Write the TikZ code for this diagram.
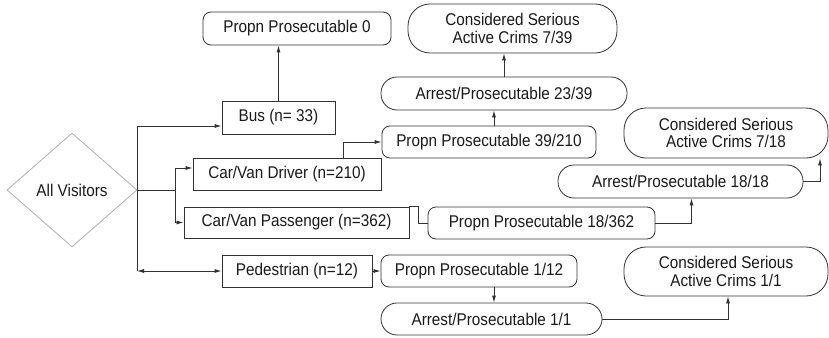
\documentclass[tikz,border=0pt]{standalone}
\usepackage{fontspec}
\setmainfont{Liberation Sans}[FakeStretch=0.9]
\usetikzlibrary{shapes.geometric,arrows.meta}
\definecolor{edge}{RGB}{50,50,50}
\definecolor{txt}{RGB}{25,25,25}
\definecolor{dia}{RGB}{175,175,175}
\begin{document}
\begin{tikzpicture}[x=1pt,y=-1pt,
  every node/.style={font=\fontsize{17}{17.5}\selectfont,text=txt,inner sep=0pt,align=center},
  sqbox/.style={draw=edge,line width=0.8pt,rectangle},
  rbox/.style={draw=edge,line width=0.8pt,rectangle,rounded corners=8pt},
  oval/.style={draw=edge,line width=0.8pt,rectangle,rounded corners=16pt},
  bigoval/.style={draw=edge,line width=0.8pt,rectangle,rounded corners=22pt},
  conn/.style={draw=edge,line width=0.8pt},
  arr/.style={conn,-{Latex[length=7pt,width=4pt]}},
  darr/.style={conn,{Latex[length=7pt,width=4pt]}-{Latex[length=7pt,width=4pt]}}]
\useasboundingbox (0,0) rectangle (829,337);

% nodes
\node[draw=dia,line width=0.8pt,diamond,minimum width=130pt,minimum height=114pt] (all) at (72,190) {All Visitors};
\node[rbox,minimum width=188pt,minimum height=33pt] (pp0) at (297,28.5) {Propn Prosecutable 0};
\node[sqbox,minimum width=113pt,minimum height=33pt] (bus) at (278.5,117.5) {Bus (n= 33)};
\node[sqbox,minimum width=188pt,minimum height=32pt] (drv) at (287,174) {Car/Van Driver (n=210)};
\node[sqbox,minimum width=225pt,minimum height=31pt] (pas) at (296.5,222.5) {Car/Van Passenger (n=362)};
\node[sqbox,minimum width=150pt,minimum height=32pt] (ped) at (297,271) {Pedestrian (n=12)};
\node[rbox,minimum width=214pt,minimum height=32pt] (p39) at (489,142) {Propn Prosecutable 39/210};
\node[oval,minimum width=246pt,minimum height=33pt] (a23) at (504,93.5) {Arrest/Prosecutable 23/39};
\node[bigoval,minimum width=209pt,minimum height=49pt] (c739) at (512.5,28.5) {Considered Serious\\Active Crims 7/39};
\node[bigoval,minimum width=204pt,minimum height=50pt] (c718) at (726,133) {Considered Serious\\Active Crims 7/18};
\node[oval,minimum width=245pt,minimum height=33pt] (a18) at (680.5,181.5) {Arrest/Prosecutable 18/18};
\node[rbox,minimum width=227pt,minimum height=32pt] (p18) at (541.5,223) {Propn Prosecutable 18/362};
\node[rbox,minimum width=196pt,minimum height=32pt] (p112) at (479,271) {Propn Prosecutable 1/12};
\node[oval,minimum width=221pt,minimum height=32pt] (a11) at (491.5,319) {Arrest/Prosecutable 1/1};
\node[bigoval,minimum width=204pt,minimum height=49pt] (c11) at (726,271.5) {Considered Serious\\Active Crims 1/1};

% helper coordinates
\coordinate (trunkTop) at (137,126);
\coordinate (trunkBot) at (137,271);
\coordinate (br) at (175,190);
\coordinate (brTop) at (175,168);
\coordinate (brBot) at (175,222.5);

% connectors
\draw[arr] (bus.north) -- (bus.north |- pp0.south);
\draw[conn] (trunkTop) -- (trunkBot);
\draw[conn] (all.east) -- (br);
\draw[conn] (brTop) -- (brBot);
\draw[arr] (trunkTop) -- (bus.west |- trunkTop);
\draw[arr] (brTop) -- (drv.west |- brTop);
\draw[arr] (brBot) -- (pas.west);
\draw[darr] (trunkBot) -- (ped.west);
\draw[arr] ([xshift=56pt]drv.north) |- (p39.west);
\draw[arr] ([xshift=5pt]p39.north) -- ([xshift=5pt]p39.north |- a23.south);
\draw[arr] (a23.north) -- (a23.north |- c739.south);
\draw[conn] (pas.north east) -- ++(9,0) |- (p18.west);
\draw[arr] (p18.east) -| ([xshift=11pt]a18.south);
\draw[arr] (a18.east) -| ([xshift=94pt]c718.south);
\draw[arr] (ped.east) -- (p112.west);
\draw[arr] ([xshift=15pt]p112.south) -- ([xshift=15pt]p112.south |- a11.north);
\draw[arr] (a11.east) -| ([xshift=2pt]c11.south);
\end{tikzpicture}
\end{document}
